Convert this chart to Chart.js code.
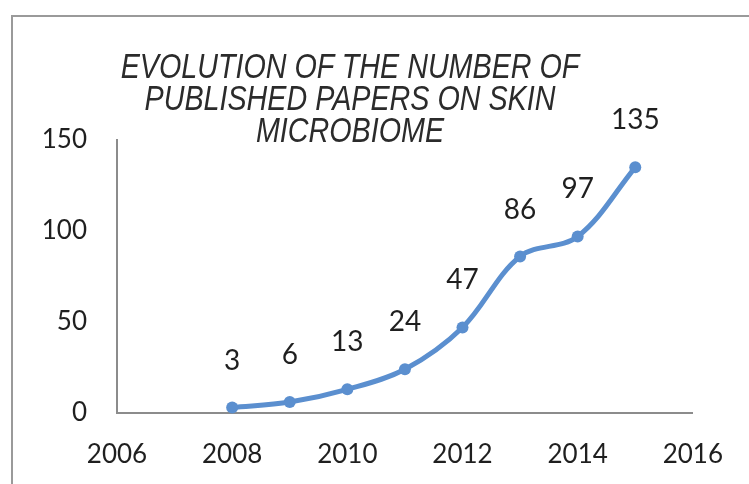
<!DOCTYPE html>
<html>
<head>
<meta charset="utf-8">
<script src="https://cdn.jsdelivr.net/npm/chart.js@4"></script>
<style>
  html, body { margin: 0; padding: 0; background: #fff; overflow: hidden; }
  #wrap { position: relative; width: 749px; height: 484px; }
  #frame { position: absolute; left: 11px; top: 15px; width: 800px; height: 520px; border: 2px solid #9a9a9a; box-sizing: border-box; }
  #title { position: absolute; left: 0px; width: 700px; top: 50px; text-align: center; white-space: nowrap;
           font-family: "Liberation Sans", Arial, sans-serif;
           font-style: italic; font-size: 35px; line-height: 32px; color: #2b2b2b;
           transform: scaleX(0.82); transform-origin: 350px 0; }
  #c { position: absolute; left: 0; top: 0; }
</style>
</head>
<body>
<div id="wrap">
  <div id="frame"></div>
  <canvas id="c" width="749" height="484"></canvas>
  <div id="title">EVOLUTION OF THE NUMBER OF<br>PUBLISHED PAPERS ON SKIN<br>MICROBIOME</div>
</div>
<script>
const years = [2008, 2009, 2010, 2011, 2012, 2013, 2014, 2015];
const papers = [3, 6, 13, 24, 47, 86, 97, 135];
const xTicks = [2006, 2008, 2010, 2012, 2014, 2016];
const yTicks = [0, 50, 100, 150];

const tickFont = { family: "Lato, 'Open Sans', sans-serif", size: 26 };
const labelFont = "28px Lato, 'Open Sans', sans-serif";

const dataLabels = {
  id: 'dataLabels',
  afterDatasetsDraw(chart) {
    const ctx = chart.ctx;
    const meta = chart.getDatasetMeta(0);
    ctx.save();
    ctx.font = labelFont;
    ctx.fillStyle = '#1f1f1f';
    ctx.textAlign = 'center';
    ctx.textBaseline = 'middle';
    meta.data.forEach((pt, i) => {
      ctx.fillText(String(papers[i]), pt.x, pt.y - 47);
    });
    ctx.restore();
  }
};

new Chart(document.getElementById('c'), {
  type: 'line',
  data: {
    datasets: [{
      data: years.map((y, i) => ({ x: y, y: papers[i] })),
      borderColor: '#5b8fcf',
      backgroundColor: '#5b8fcf',
      borderWidth: 5,
      pointRadius: 6,
      pointStyle: 'circle',
      pointBorderWidth: 0,
      tension: 0.35,
      fill: false,
      clip: false
    }]
  },
  options: {
    responsive: false,
    animation: false,
    devicePixelRatio: 1,
    layout: { padding: { top: 140, right: 55, bottom: 0, left: 0 } },
    plugins: { legend: { display: false }, tooltip: { enabled: false }, title: { display: false } },
    scales: {
      x: {
        type: 'linear',
        min: 2006, max: 2016,
        afterBuildTicks: s => { s.ticks = xTicks.map(v => ({ value: v })); },
        afterFit: s => { s.height = 71; },
        grid: { display: false, drawTicks: false },
        border: { display: true, color: '#8c8c8c', width: 2 },
        ticks: { font: tickFont, color: '#1f1f1f', padding: 26, maxRotation: 0, callback: v => String(v) }
      },
      y: {
        min: 0, max: 150,
        afterBuildTicks: s => { s.ticks = yTicks.map(v => ({ value: v })); },
        afterFit: s => { s.width = 117; },
        grid: { display: false, drawTicks: false },
        border: { display: true, color: '#8c8c8c', width: 2 },
        ticks: { font: tickFont, color: '#1f1f1f', padding: 30 }
      }
    }
  },
  plugins: [dataLabels]
});
</script>
</body>
</html>
